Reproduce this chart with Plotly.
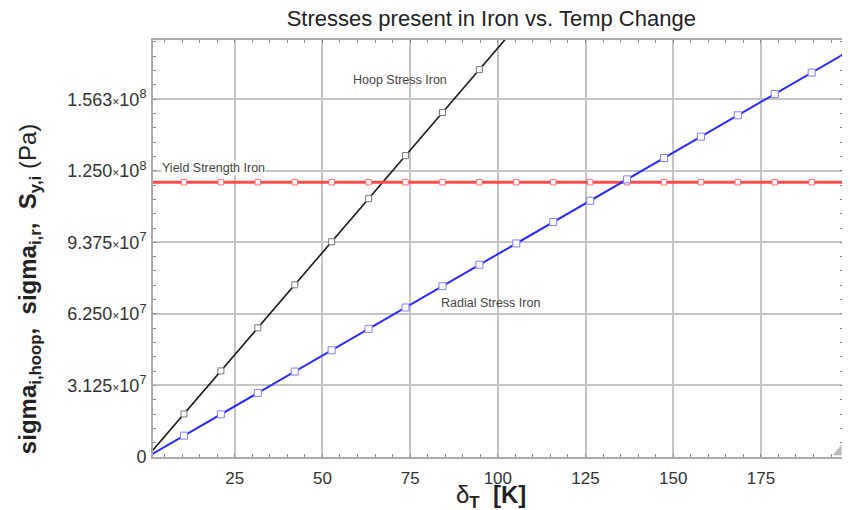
import plotly.graph_objects as go

# ---- data ----
delta_T = [0, 10.526, 21.053, 31.579, 42.105, 52.632, 63.158, 73.684, 84.211, 94.737,
           105.263, 115.789, 126.316, 136.842, 147.368, 157.895, 168.421, 178.947, 189.474, 200]
hoop_stress = [0, 1.880e7, 3.760e7, 5.640e7, 7.520e7, 9.400e7, 1.128e8, 1.316e8, 1.504e8, 1.692e8,
               1.880e8, 2.068e8, 2.256e8, 2.444e8, 2.632e8, 2.820e8, 3.008e8, 3.196e8, 3.384e8, 3.572e8]
radial_stress = [0, 9.326e6, 1.865e7, 2.798e7, 3.731e7, 4.663e7, 5.596e7, 6.528e7, 7.461e7, 8.394e7,
                 9.326e7, 1.0259e8, 1.1191e8, 1.2124e8, 1.3057e8, 1.3989e8, 1.4922e8, 1.5855e8, 1.6787e8, 1.772e8]
yield_strength = [1.2e8] * 20

x_ticks = [25, 50, 75, 100, 125, 150, 175]
y_ticks = [0, 3.125e7, 6.25e7, 9.375e7, 1.25e8, 1.5625e8]
y_tick_mant = ["0", "3.125", "6.250", "9.375", "1.250", "1.563"]
y_tick_exp = ["", "7", "7", "7", "8", "8"]

FONT = "Liberation Sans, Arial, sans-serif"

def ylabel(m, e):
    if not e:
        return m
    return m + "<span style='font-size:12px'>×</span>10<sup>" + e + "</sup>"

fig = go.Figure()

fig.add_trace(go.Scatter(
    x=delta_T, y=hoop_stress, mode="lines+markers", name="Hoop Stress Iron",
    line=dict(color="#1a1a1a", width=1.6),
    marker=dict(symbol="square", size=6, color="white", line=dict(color="#777777", width=1)),
))
fig.add_trace(go.Scatter(
    x=delta_T, y=yield_strength, mode="lines+markers", name="Yield Strength Iron",
    line=dict(color="#ff4d4d", width=3),
    marker=dict(symbol="square", size=5.5, color="white", line=dict(color="#ff7070", width=1)),
))
fig.add_trace(go.Scatter(
    x=delta_T, y=radial_stress, mode="lines+markers", name="Radial Stress Iron",
    line=dict(color="#2a2aff", width=2),
    marker=dict(symbol="square", size=7, color="white", line=dict(color="#8080ff", width=1)),
))

ann_font = dict(family=FONT, size=12.5, color="#444444")
fig.add_annotation(x=72.0, y=1.648e8, text="Hoop Stress Iron", showarrow=False,
                   font=ann_font, xanchor="center", yanchor="middle")
fig.add_annotation(x=3.9, y=1.262e8, text="Yield Strength Iron", showarrow=False,
                   font=ann_font, xanchor="left", yanchor="middle", bgcolor="white", borderpad=0)
fig.add_annotation(x=97.9, y=6.72e7, text="Radial Stress Iron", showarrow=False,
                   font=ann_font, xanchor="center", yanchor="middle")

# axis titles
fig.add_annotation(xref="paper", yref="paper", x=-0.178, y=0.403, textangle=-90,
                   text="<b>sigma<sub>i,hoop</sub>,  sigma<sub>i,r</sub>,  S<sub>y,i</sub></b> (Pa)",
                   showarrow=False, font=dict(family=FONT, size=24, color="#222222"),
                   xanchor="center", yanchor="middle")
fig.add_annotation(xref="paper", yref="paper", x=0.49, y=-0.094,
                   text="δ<sub><b>T</b></sub>  <b>[K]</b>",
                   showarrow=False, font=dict(family=FONT, size=24, color="#222222"),
                   xanchor="center", yanchor="middle")

# resize grip decoration in bottom-right corner
fig.add_shape(type="path", xref="paper", yref="paper",
              path="M 0.985 0.004 L 0.998 0.004 L 0.998 0.03 Z",
              fillcolor="#bbbbbb", line=dict(width=0))

# the page body has an 8px margin, so the figure is offset by 8px
fig.update_layout(
    width=842, height=502,
    margin=dict(l=145, r=7, t=32, b=53, autoexpand=False),
    paper_bgcolor="white", plot_bgcolor="white",
    showlegend=False,
    title=dict(text="Stresses present in Iron vs. Temp Change", x=0.574, xanchor="center",
               y=0.980, yanchor="middle", font=dict(family=FONT, size=22, color="#222222")),
    font=dict(family=FONT),
)

fig.update_xaxes(
    automargin=False,
    range=[1.7, 198.4], tickmode="array", tickvals=x_ticks, ticktext=[str(v) for v in x_ticks],
    tickfont=dict(family=FONT, size=17, color="#333333"),
    showgrid=True, gridcolor="#c4c4c4", gridwidth=1.5, zeroline=False,
    showline=True, linecolor="#aaaaaa", linewidth=2, mirror="allticks",
    ticks="inside", ticklen=3, tickcolor="#888888",
    minor=dict(dtick=5, tick0=0, ticks="inside", ticklen=3, tickcolor="#888888", showgrid=False),
    ticklabelstandoff=5,
)
fig.update_yaxes(
    automargin=False,
    range=[0, 1.821e8], tickmode="array", tickvals=y_ticks,
    ticktext=[ylabel(m, e) for m, e in zip(y_tick_mant, y_tick_exp)],
    tickfont=dict(family=FONT, size=18, color="#333333"),
    showgrid=True, gridcolor="#c4c4c4", gridwidth=1.5, zeroline=False,
    showline=True, linecolor="#aaaaaa", linewidth=2, mirror="allticks",
    ticks="inside", ticklen=3, tickcolor="#888888",
    minor=dict(dtick=6.25e6, tick0=0, ticks="inside", ticklen=3, tickcolor="#888888", showgrid=False),
    ticklabelstandoff=1,
)

fig.write_html("out.html")
